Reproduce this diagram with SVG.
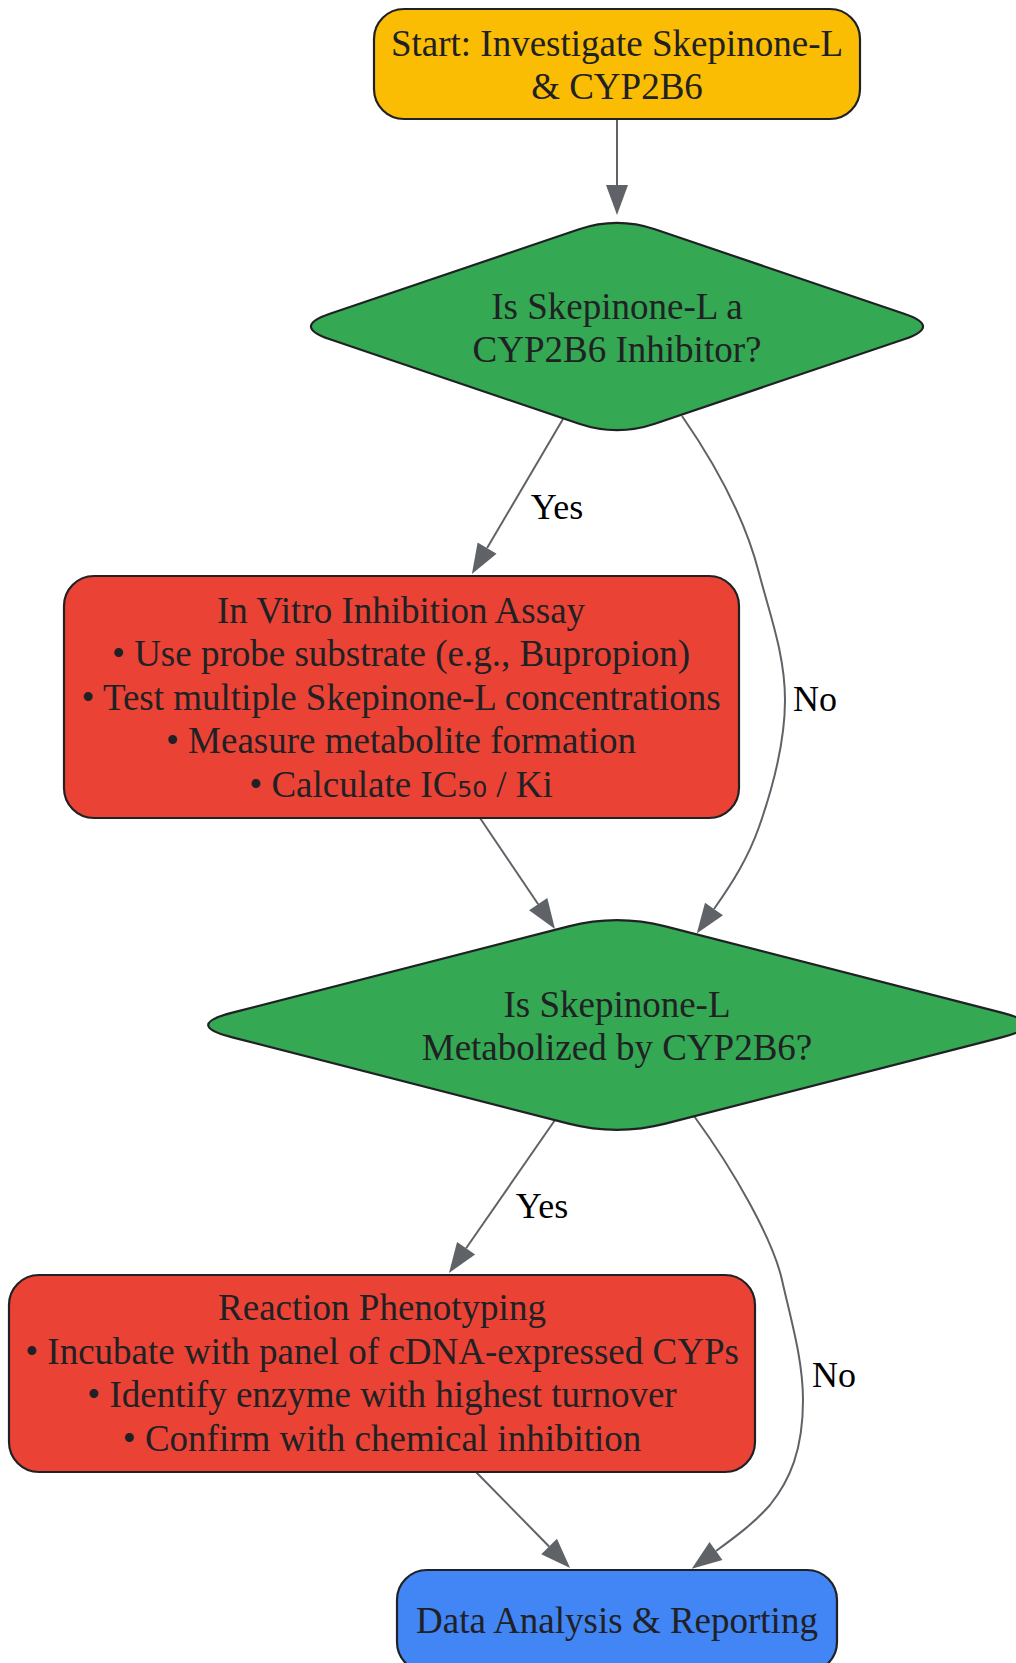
<svg xmlns="http://www.w3.org/2000/svg" width="1016" height="1663" viewBox="0 0 1016 1663">
<defs>
<style>
.node{stroke:#202124;stroke-width:2.2}
.t{font-family:"Liberation Serif","Times New Roman",serif;font-size:37px;fill:#202124;text-anchor:middle}
.sub{font-family:"DejaVu Sans",sans-serif;font-size:37px}
.lbl{font-family:"Liberation Serif","Times New Roman",serif;font-size:36px;fill:#000;text-anchor:middle}
.edge{fill:none;stroke:#5f6368;stroke-width:2;marker-end:url(#arrow)}
</style>
<marker id="arrow" markerUnits="userSpaceOnUse" viewBox="0 0 30 22" markerWidth="30" markerHeight="22" refX="0" refY="11" orient="auto" overflow="visible">
<path d="M0,0 L30,11 L0,22 z" fill="#5f6368"/>
</marker>
</defs>
<rect width="1016" height="1663" fill="#fff"/>
<g id="connectors">
<path class="edge" d="M617,119 L617,185"/>
<path class="edge" d="M563,419 L487.1,548.1"/>
<path class="edge" d="M682,416 C725,478 748,530 759,573 C770,615 785,655 785,700 C785,745 772,790 759,827 C748,858 733,882 714,909"/>
<path class="edge" d="M480,818 L538.2,904.2"/>
<path class="edge" d="M555,1120 L466.1,1248.3"/>
<path class="edge" d="M694,1116 C735,1172 773,1240 782,1280 C791,1320 803,1360 803,1400 C803,1450 790,1480 770,1505 C755,1522 738,1535 716,1551"/>
<path class="edge" d="M476,1472 L549.1,1546.5"/>
<text class="lbl" x="557" y="519">Yes</text>
<text class="lbl" x="815" y="711">No</text>
<text class="lbl" x="542" y="1218">Yes</text>
<text class="lbl" x="834" y="1387">No</text>
</g>
<g id="start">
<rect class="node" x="374" y="9" width="486" height="110" rx="30" ry="30" fill="#FBBC04"/>
<text class="t" x="617" y="56">Start: Investigate Skepinone-L</text>
<text class="t" x="617" y="99">&amp; CYP2B6</text>
</g>
<g id="inhibitor_decision">
<path class="node" fill="#34A853" d="M579.1,229.3 Q617,216.5 654.9,229.3 L904.1,313.7 Q942,326.5 904.1,339.3 L654.9,423.7 Q617,436.5 579.1,423.7 L329.9,339.3 Q292,326.5 329.9,313.7 Z"/>
<text class="t" x="617" y="319">Is Skepinone-L a</text>
<text class="t" x="617" y="362">CYP2B6 Inhibitor?</text>
</g>
<g id="inhibition_assay">
<rect class="node" x="64" y="576" width="675" height="242" rx="30" ry="30" fill="#EA4335"/>
<text class="t" x="401" y="623">In Vitro Inhibition Assay</text>
<text class="t" x="401" y="666">• Use probe substrate (e.g., Bupropion)</text>
<text class="t" x="401" y="710">• Test multiple Skepinone-L concentrations</text>
<text class="t" x="401" y="753">• Measure metabolite formation</text>
<text class="t" x="401" y="797">• Calculate IC<tspan class="sub">₅₀</tspan> / Ki</text>
</g>
<g id="metabolism_decision">
<path class="node" fill="#34A853" d="M568.6,926.4 Q617,914 665.4,926.4 L1001.6,1012.6 Q1050,1025 1001.6,1037.4 L665.4,1123.6 Q617,1136 568.6,1123.6 L232.4,1037.4 Q184,1025 232.4,1012.6 Z"/>
<text class="t" x="617" y="1017">Is Skepinone-L</text>
<text class="t" x="617" y="1060">Metabolized by CYP2B6?</text>
</g>
<g id="reaction_phenotyping">
<rect class="node" x="9" y="1275" width="746" height="197" rx="30" ry="30" fill="#EA4335"/>
<text class="t" x="382" y="1320">Reaction Phenotyping</text>
<text class="t" x="382" y="1364">• Incubate with panel of cDNA-expressed CYPs</text>
<text class="t" x="382" y="1407">• Identify enzyme with highest turnover</text>
<text class="t" x="382" y="1451">• Confirm with chemical inhibition</text>
</g>
<g id="reporting">
<rect class="node" x="397" y="1570" width="440" height="102" rx="30" ry="30" fill="#4285F4"/>
<text class="t" x="617" y="1633">Data Analysis &amp; Reporting</text>
</g>
</svg>
